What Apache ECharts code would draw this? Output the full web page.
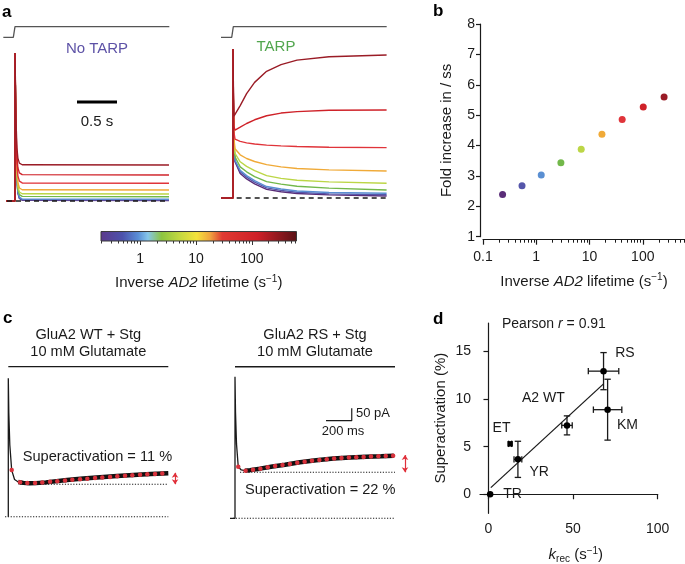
<!DOCTYPE html>
<html><head><meta charset="utf-8">
<script src="https://cdn.jsdelivr.net/npm/echarts@6/dist/echarts.min.js"></script>
<style>html,body{margin:0;padding:0;background:#fff}#c{width:685px;height:564px}</style>
</head><body><div id="c"></div>
<script>
const FONT = '"Liberation Sans", Arial, Helvetica, sans-serif';
const INK = '#1a1a1a';

// ---------- shared: inverse AD2 lifetimes (s^-1) ----------
const rates = [0.233, 0.54, 1.24, 2.9, 6.98, 17.1, 41, 102, 251];
const rateColors = ['#5a2d78', '#5556aa', '#5a8fd2', '#72b84a', '#bcd646', '#f0aa38', '#e0343a', '#cf2229', '#9a1c26'];

// ---------- panel a : No TARP (normalised current vs time, s) ----------
const tNoTarp = [-0.11, 0, 0, 0.006, 0.014, 0.024, 0.036, 0.055, 0.09, 1.925];
const noTarpR0 = [0, 0, 1, 0.70, 0.35, 0.14, 0.054, 0.017, 0.005, 0.003];
const noTarpR1 = [0, 0, 1, 0.70, 0.355, 0.145, 0.057, 0.020, 0.008, 0.006];
const noTarpR2 = [0, 0, 1, 0.70, 0.36, 0.15, 0.063, 0.026, 0.0135, 0.0115];
const noTarpR3 = [0, 0, 1, 0.70, 0.37, 0.165, 0.080, 0.043, 0.031, 0.029];
const noTarpR4 = [0, 0, 1, 0.71, 0.38, 0.18, 0.098, 0.061, 0.049, 0.047];
const noTarpR5 = [0, 0, 1, 0.72, 0.40, 0.21, 0.125, 0.088, 0.076, 0.074];
const noTarpR6 = [0, 0, 1, 0.73, 0.43, 0.25, 0.17, 0.134, 0.122, 0.120];
const noTarpR7 = [0, 0, 1, 0.75, 0.47, 0.30, 0.225, 0.19, 0.178, 0.176];
const noTarpR8 = [0, 0, 1, 0.78, 0.52, 0.36, 0.29, 0.256, 0.245, 0.243];
const noTarpTraces = [noTarpR0, noTarpR1, noTarpR2, noTarpR3, noTarpR4, noTarpR5, noTarpR6, noTarpR7, noTarpR8];

// ---------- panel a : TARP ----------
const tTarp = [-0.15, 0, 0, 0.005, 0.012, 0.025, 0.09, 0.17, 0.27, 0.42, 0.6, 0.8, 1.2, 1.92];
const tarpR0 = [0, 0, 1, 0.60, 0.34, 0.244, 0.165, 0.128, 0.095, 0.058, 0.042, 0.030, 0.021, 0.013];
const tarpR1 = [0, 0, 1, 0.60, 0.345, 0.248, 0.176, 0.140, 0.106, 0.068, 0.051, 0.039, 0.028, 0.022];
const tarpR2 = [0, 0, 1, 0.60, 0.35, 0.255, 0.186, 0.150, 0.116, 0.077, 0.060, 0.047, 0.037, 0.032];
const tarpR3 = [0, 0, 1, 0.61, 0.36, 0.277, 0.209, 0.176, 0.144, 0.110, 0.093, 0.079, 0.066, 0.054];
const tarpR4 = [0, 0, 1, 0.62, 0.38, 0.300, 0.243, 0.212, 0.184, 0.150, 0.132, 0.119, 0.108, 0.099];
const tarpR5 = [0, 0, 1, 0.63, 0.40, 0.330, 0.290, 0.265, 0.245, 0.224, 0.209, 0.198, 0.189, 0.181];
const tarpR6 = [0, 0, 1, 0.66, 0.44, 0.395, 0.380, 0.370, 0.362, 0.355, 0.350, 0.346, 0.341, 0.338];
const tarpR7 = [0, 0, 1, 0.70, 0.48, 0.455, 0.475, 0.500, 0.525, 0.552, 0.570, 0.580, 0.589, 0.591];
const tarpR8 = [0, 0, 1, 0.75, 0.55, 0.550, 0.620, 0.700, 0.776, 0.850, 0.895, 0.925, 0.948, 0.960];
const tarpTraces = [tarpR0, tarpR1, tarpR2, tarpR3, tarpR4, tarpR5, tarpR6, tarpR7, tarpR8];

// glutamate application (stimulus trace) and baselines
const stimLeftT = [-0.146, -0.021, 0, 1.929];
const stimLeftY = [1.106, 1.106, 1.178, 1.178];
const stimRightT = [-0.15, -0.016, 0.004, 1.921];
const stimRightY = [1.078, 1.078, 1.15, 1.15];

// ---------- colour bar ----------
const cbMin = 0.2, cbMax = 630;
const cbLabels = [1, 10, 100];
const logMinor = [0.2, 0.3, 0.4, 0.5, 0.6, 0.7, 0.8, 0.9, 2, 3, 4, 5, 6, 7, 8, 9, 20, 30, 40, 50, 60, 70, 80, 90, 200, 300, 400, 500, 600];

// ---------- panel b ----------
const bFold = [2.39, 2.68, 3.03, 3.43, 3.88, 4.37, 4.86, 5.27, 5.60];
const bXLabels = [0.1, 1, 10, 100];

// ---------- panel c (current, pA vs time, s) ----------
const cWtFastT = [0, 0, 0.004, 0.012, 0.027, 0.05, 0.08];
const cWtFastI = [0, 558, 420, 290, 188, 150, 140];
const cWtSlowT = [0.08, 0.12, 0.17, 0.22, 0.3, 0.47, 0.6, 0.734, 0.87, 1.0, 1.14, 1.28];
const cWtSlowI = [140, 136.5, 135, 135.5, 138.5, 148, 154, 159, 164, 168, 172, 175];
const cWtFitT = [0.027, 0.094, 0.152, 0.214, 0.272, 0.334, 0.392, 0.454, 0.512, 0.574, 0.632, 0.694, 0.752, 0.814, 0.872, 0.934, 0.992, 1.054, 1.112, 1.174, 1.232];
const cWtFitI = [188, 139, 135.5, 136, 138, 141, 143, 146, 149, 151, 153, 156, 158, 160, 163, 165, 167, 169, 171, 172, 174];
const cWtMin = 131, cWtSS = 177;

const cRsFastT = [-0.04, 0, 0, 0.004, 0.012, 0.026, 0.05, 0.08];
const cRsFastI = [0, 0, 571, 430, 300, 208, 195, 192];
const cRsSlowT = [0.08, 0.12, 0.2, 0.3, 0.4, 0.52, 0.65, 0.787, 0.92, 1.05, 1.17, 1.27];
const cRsSlowI = [192, 194, 200, 209, 216, 226, 234, 241, 245, 248, 250, 252];
const cRsFitT = [0.026, 0.085, 0.144, 0.203, 0.262, 0.321, 0.38, 0.439, 0.498, 0.557, 0.616, 0.675, 0.734, 0.793, 0.852, 0.911, 0.97, 1.029, 1.088, 1.147, 1.206, 1.265];
const cRsFitI = [208, 192, 196, 200, 206, 211, 215, 219, 224, 228, 232, 235, 238, 241, 243, 245, 246, 247, 249, 250, 251, 252];
const cRsMin = 185.5, cRsSS = 255;

// ---------- panel d ----------
const dNames = ['TR', 'ET', 'YR', 'A2 WT', 'RS', 'KM'];
const dKrec = [1.0, 12.8, 17.4, 46.4, 68.0, 70.4];
const dKrecErr = [0, 0.9, 2.3, 3.1, 9.0, 8.4];
const dSuper = [0.0, 5.3, 3.67, 7.24, 12.94, 8.89];
const dSuperErr = [0, 0, 1.9, 1.0, 1.95, 3.2];
const dFitX = [1.4, 68];
const dFitY = [0.7, 11.6];
const dXLabels = [0, 50, 100];
const dYLabels = [0, 5, 10, 15];

// ================= option building =================
const pairs = (xs, ys) => xs.map((x, i) => [x, ys[i]]);
const hiddenAxis = (grid, min, max) => ({type: 'value', gridIndex: grid, min, max, show: false});
const lineS = (xi, yi, data, color, width, extra) => Object.assign({
  type: 'line', xAxisIndex: xi, yAxisIndex: yi, data, showSymbol: false, symbol: 'none',
  silent: true, animation: false, lineStyle: {color, width, opacity: 1}
}, extra || {});
const textStyle = (size, extra) => Object.assign({fontFamily: FONT, fontSize: size, color: INK}, extra || {});

const grids = [
  {left: 3, top: 201 - 1.22 * 148, width: 2.08 * 80, height: 1.25 * 148},          // 0 a-left
  {left: 220.2, top: 198 - 1.22 * 149, width: 2.09 * 80, height: 1.25 * 149},      // 1 a-right
  {left: 101, top: 231.5, width: 195.5, height: 9.5, show: true, borderColor: '#3a3a3a', borderWidth: 1, backgroundColor: 'transparent', z: 6}, // 2 colour bar
  {left: 483, top: 24, width: 202, height: 212.7},                                  // 3 b
  {left: 4.55, top: 516.7 - 650 * 0.248, width: 1.41 * 125, height: 670 * 0.248},  // 4 c-left
  {left: 228.75, top: 518.3 - 650 * 0.248, width: 1.45 * 125, height: 670 * 0.248},// 5 c-right
  {left: 480, top: 323, width: 177.7, height: 190.3}                                // 6 d
].map(g => Object.assign({outerBoundsMode: 'none', containLabel: false}, g));

const axisLine = {show: true, lineStyle: {color: INK, width: 1.2}};
const tickStyle = {color: INK, width: 1.2};

const supRich = (size) => ({
  n: {fontFamily: FONT, fontSize: size, color: INK, lineHeight: 18},
  i: {fontFamily: FONT, fontSize: size, color: INK, lineHeight: 18, fontStyle: 'italic'},
  sup: {fontFamily: FONT, fontSize: 10, color: INK, lineHeight: 10, verticalAlign: 'top'},
  sub: {fontFamily: FONT, fontSize: 10, color: INK, lineHeight: 10, verticalAlign: 'bottom'}
});
const adName = '{n|Inverse }{i|AD2}{n| lifetime (s}{sup|\u22121}{n|)}';

// axis indices: x 0 a-left, 1 a-right, 2 cbar, 3 b, 4 b-minor, 5 c-left, 6 c-right, 7 d, 8 cbar-minor
const xAxes = [
  hiddenAxis(0, -0.15, 1.93),
  hiddenAxis(1, -0.16, 1.93),
  {
    type: 'log', gridIndex: 2, position: 'bottom', min: cbMin, max: cbMax,
    axisLine: {show: false}, splitLine: {show: false},
    axisTick: {show: true, length: 4, customValues: cbLabels, lineStyle: {color: '#333', width: 1}},
    axisLabel: {show: true, customValues: cbLabels, margin: 11, ...textStyle(14)},
    name: adName, nameLocation: 'middle', nameGap: 33, nameMoveOverlap: false,
    nameTextStyle: {rich: supRich(15)}
  },
  {
    type: 'log', gridIndex: 3, position: 'bottom', min: 0.1, max: 620, offset: 3,
    axisLine, splitLine: {show: false},
    axisTick: {show: true, length: 5, customValues: bXLabels, lineStyle: tickStyle},
    axisLabel: {show: true, customValues: bXLabels, margin: 10, ...textStyle(14)},
    name: adName, nameLocation: 'middle', nameGap: 33, nameMoveOverlap: false,
    nameTextStyle: {rich: supRich(15)}
  },
  {
    type: 'log', gridIndex: 3, position: 'bottom', min: 0.1, max: 620, offset: 3,
    axisLine: {show: false}, splitLine: {show: false}, axisLabel: {show: false},
    axisTick: {show: true, length: 3, customValues: logMinor, lineStyle: {color: INK, width: 1}}
  },
  hiddenAxis(4, -0.03, 1.38),
  hiddenAxis(5, -0.05, 1.40),
  {
    type: 'value', gridIndex: 6, position: 'bottom', min: -5, max: 100,
    axisLine, splitLine: {show: false},
    axisTick: {show: true, length: 5, customValues: dXLabels, lineStyle: tickStyle},
    axisLabel: {show: true, customValues: dXLabels, margin: 9, ...textStyle(14)},
    name: '{i|k}{sub|rec}{n| (s}{sup|\u22121}{n|)}', nameLocation: 'middle', nameGap: 33, nameMoveOverlap: false,
    nameTextStyle: {rich: supRich(15), padding: [0, 0, 0, 14]}
  },
  {
    type: 'log', gridIndex: 2, position: 'bottom', min: cbMin, max: cbMax,
    axisLine: {show: false}, splitLine: {show: false}, axisLabel: {show: false},
    axisTick: {show: true, length: 2.5, customValues: logMinor, lineStyle: {color: '#333', width: 1}}
  }
];

// y indices: 0 a-left, 1 a-right, 2 cbar, 3 b, 4 c-left, 5 c-right, 6 d
const yAxes = [
  hiddenAxis(0, -0.03, 1.22),
  hiddenAxis(1, -0.03, 1.22),
  hiddenAxis(2, 0, 1),
  {
    type: 'value', gridIndex: 3, position: 'left', min: 1, max: 8, interval: 1, offset: 3,
    axisLine, splitLine: {show: false},
    axisTick: {show: true, length: 4, lineStyle: tickStyle},
    axisLabel: {show: true, margin: 5, ...textStyle(14)},
    name: 'Fold increase in / ss', nameLocation: 'middle', nameRotate: 90, nameGap: 26, nameMoveOverlap: false,
    nameTextStyle: textStyle(15)
  },
  hiddenAxis(4, -20, 650),
  hiddenAxis(5, -20, 650),
  {
    type: 'value', gridIndex: 6, position: 'left', min: -2, max: 18,
    axisLine, splitLine: {show: false},
    axisTick: {show: true, length: 5, customValues: dYLabels, lineStyle: tickStyle},
    axisLabel: {show: true, customValues: dYLabels, margin: 9, ...textStyle(14)},
    name: 'Superactivation (%)', nameLocation: 'middle', nameRotate: 90, nameGap: 32, nameMoveOverlap: false,
    nameTextStyle: textStyle(15)
  }
];

const series = [];

// ---- panel a ----
series.push(lineS(0, 0, pairs(stimLeftT, stimLeftY), '#555', 1.3));
noTarpTraces.forEach((tr, i) => series.push(lineS(0, 0, pairs(tNoTarp, tr), rateColors[i], 1.4)));
series.push(lineS(0, 0, [[-0.1, 0], [1.925, 0]], INK, 1.6, {lineStyle: {color: INK, width: 1.6, type: [5, 4]}, z: 5}));
series.push(lineS(0, 0, [[0.775, 0.669], [1.275, 0.669]], '#000', 3));

series.push(lineS(1, 1, pairs(stimRightT, stimRightY), '#555', 1.3));
tarpTraces.forEach((tr, i) => series.push(lineS(1, 1, pairs(tTarp, tr), rateColors[i], 1.4)));
series.push(lineS(1, 1, [[0.046, 0], [1.92, 0]], INK, 1.6, {lineStyle: {color: INK, width: 1.6, type: [5, 4]}, z: 5}));

// ---- colour bar ----
series.push(lineS(2, 2, [[cbMin, 1], [cbMax, 1]], 'transparent', 0, {
  areaStyle: {opacity: 1, color: new echarts.graphic.LinearGradient(0, 0, 1, 0, [
    {offset: 0.00, color: '#5c3a8c'}, {offset: 0.11, color: '#4c52ac'}, {offset: 0.19, color: '#5a8ed6'},
    {offset: 0.24, color: '#86c6ea'}, {offset: 0.31, color: '#8cc440'}, {offset: 0.40, color: '#c2d840'},
    {offset: 0.49, color: '#f4e23c'}, {offset: 0.56, color: '#f0a23e'}, {offset: 0.62, color: '#e03a32'},
    {offset: 0.80, color: '#cf2028'}, {offset: 1.00, color: '#5a1216'}
  ])}
}));

// ---- panel b ----
series.push({
  type: 'scatter', xAxisIndex: 3, yAxisIndex: 3, silent: true, animation: false, symbolSize: 7,
  itemStyle: {opacity: 1},
  data: rates.map((r, i) => ({value: [r, bFold[i]], itemStyle: {color: rateColors[i], opacity: 1}}))
});

// ---- panel c ----
const dotted = (xi, yi, data) => lineS(xi, yi, data, INK, 1.1, {lineStyle: {color: INK, width: 1.1, type: [1.2, 1.6]}});
const arrow = (xi, yi, x, y0, y1) => ({
  type: 'line', xAxisIndex: xi, yAxisIndex: yi, data: [], silent: true, animation: false,
  markLine: {silent: true, animation: false, symbol: ['arrow', 'arrow'], symbolSize: [5, 5], label: {show: false},
    lineStyle: {color: '#e0303a', width: 1.2, type: 'solid', opacity: 1}, itemStyle: {color: '#e0303a'}, emphasis: {disabled: true},
    data: [[{coord: [x, y0]}, {coord: [x, y1]}]]}
});
const fitDots = (xi, yi, data) => ({type: 'scatter', xAxisIndex: xi, yAxisIndex: yi, silent: true, animation: false,
  symbolSize: 4.5, itemStyle: {color: '#d8323c', opacity: 1}, data, z: 4});
// left (WT): xAxis 5, yAxis 4
series.push(lineS(5, 4, [[0, 605], [1.28, 605]], INK, 1.3));
series.push(dotted(5, 4, [[-0.026, 0], [1.28, 0]]));
series.push(dotted(5, 4, [[0.094, cWtMin], [1.28, cWtMin]]));
series.push(lineS(5, 4, pairs(cWtFastT, cWtFastI), INK, 1.3));
series.push(lineS(5, 4, pairs(cWtSlowT, cWtSlowI), '#111', 4.4));
series.push(fitDots(5, 4, pairs(cWtFitT, cWtFitI)));
series.push(arrow(5, 4, 1.334, cWtMin, cWtSS));
// right (RS): xAxis 6, yAxis 5
series.push(lineS(6, 5, [[0, 611], [1.28, 611]], INK, 1.3));
series.push(dotted(6, 5, [[-0.016, 0], [1.28, 0]]));
series.push(dotted(6, 5, [[0.04, cRsMin], [1.28, cRsMin]]));
series.push(lineS(6, 5, pairs(cRsFastT, cRsFastI), INK, 1.3));
series.push(lineS(6, 5, pairs(cRsSlowT, cRsSlowI), '#111', 4.4));
series.push(fitDots(6, 5, pairs(cRsFitT, cRsFitI)));
series.push(arrow(6, 5, 1.36, cRsMin, cRsSS));
series.push(lineS(6, 5, [[0.728, 393.5], [0.934, 393.5], [0.934, 443.5]], INK, 1.2));

// ---- panel d ----
series.push(lineS(7, 6, pairs(dFitX, dFitY), INK, 1.3));
series.push({
  type: 'custom', xAxisIndex: 7, yAxisIndex: 6, silent: true, animation: false,
  data: dKrec.map((k, i) => [k, dSuper[i], dKrecErr[i], dSuperErr[i]]),
  renderItem: (params, api) => {
    const x = api.value(0), y = api.value(1), ex = api.value(2), ey = api.value(3);
    const st = {stroke: INK, lineWidth: 1.3};
    const kids = [];
    const cap = 3.2;
    if (ex > 0) {
      const l = api.coord([x - ex, y]), r = api.coord([x + ex, y]);
      kids.push({type: 'line', shape: {x1: l[0], y1: l[1], x2: r[0], y2: r[1]}, style: st});
      kids.push({type: 'line', shape: {x1: l[0], y1: l[1] - cap, x2: l[0], y2: l[1] + cap}, style: st});
      kids.push({type: 'line', shape: {x1: r[0], y1: r[1] - cap, x2: r[0], y2: r[1] + cap}, style: st});
    }
    if (ey > 0) {
      const t = api.coord([x, y + ey]), b = api.coord([x, y - ey]);
      kids.push({type: 'line', shape: {x1: t[0], y1: t[1], x2: b[0], y2: b[1]}, style: st});
      kids.push({type: 'line', shape: {x1: t[0] - cap, y1: t[1], x2: t[0] + cap, y2: t[1]}, style: st});
      kids.push({type: 'line', shape: {x1: b[0] - cap, y1: b[1], x2: b[0] + cap, y2: b[1]}, style: st});
    }
    return {type: 'group', children: kids};
  }
});
const dLabelOffset = {'TR': [13, 0], 'ET': [-17.5, -15.5], 'YR': [11.5, 12.7], 'A2 WT': [-45, -27], 'RS': [11.7, -17.7], 'KM': [9.4, 15.7]};
series.push({
  type: 'scatter', xAxisIndex: 7, yAxisIndex: 6, silent: true, animation: false,
  itemStyle: {color: '#000', opacity: 1}, z: 5,
  data: dNames.map((n, i) => ({
    name: n, value: [dKrec[i], dSuper[i]],
    symbol: n === 'ET' ? 'rect' : 'circle', symbolSize: n === 'ET' ? 5.5 : 6.5,
    label: {show: true, formatter: n, position: 'inside', align: 'left', verticalAlign: 'middle',
      offset: dLabelOffset[n], opacity: 1, textBorderWidth: 0, ...textStyle(14)}
  }))
});

// ---- free text ----
const T = (text, x, y, o) => ({type: 'text', x, y, silent: true, z: 10,
  style: Object.assign({text, fill: INK, fontSize: 14, fontFamily: FONT, align: 'left', verticalAlign: 'middle'}, o || {})});
const bold = {fontSize: 17, fontWeight: 'bold', fill: '#000'};
const graphic = [
  T('a', 2, 12, bold), T('b', 433, 11.5, bold), T('c', 3, 318.5, bold), T('d', 433, 319, bold),
  T('No TARP', 97, 49, {align: 'center', fill: '#5d52a6', fontSize: 15}),
  T('TARP', 276, 47, {align: 'center', fill: '#52a64e', fontSize: 15}),
  T('0.5 s', 97, 122, {align: 'center', fontSize: 15}),
  T('GluA2 WT + Stg', 88.3, 335, {align: 'center', fontSize: 14.6}),
  T('10 mM Glutamate', 88.3, 351.7, {align: 'center', fontSize: 14.6}),
  T('GluA2 RS + Stg', 315, 335, {align: 'center', fontSize: 14.6}),
  T('10 mM Glutamate', 315, 351.7, {align: 'center', fontSize: 14.6}),
  T('Superactivation = 11 %', 22.7, 457.3, {fontSize: 14.6}),
  T('Superactivation = 22 %', 245, 490, {fontSize: 14.6}),
  T('50 pA', 356, 413.3, {fontSize: 13}),
  T('200 ms', 343, 431, {align: 'center', fontSize: 13}),
  T('{n|Pearson }{i|r}{n| = 0.91}', 502, 324, {rich: {
    n: {fontFamily: FONT, fontSize: 14, fill: INK}, i: {fontFamily: FONT, fontSize: 14, fill: INK, fontStyle: 'italic'}}})
];

const chart = echarts.init(document.getElementById('c'), null, {renderer: 'canvas', width: 685, height: 564});
chart.setOption({
  backgroundColor: '#fff', animation: false,
  grid: grids, xAxis: xAxes, yAxis: yAxes, series, graphic
});
</script>
</body></html>
